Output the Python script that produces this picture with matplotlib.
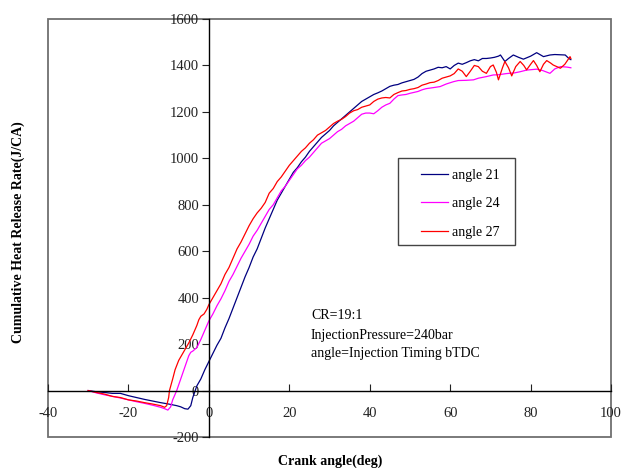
import matplotlib
matplotlib.use('Agg')
import matplotlib.pyplot as plt
from matplotlib.patches import Rectangle

plt.rcParams['font.family'] = ['Liberation Serif', 'DejaVu Serif']
plt.rcParams['axes.unicode_minus'] = False

# angle 21 (blue)
x21 = [-30, -28, -26, -24, -22, -21, -20, -18, -16, -14, -12, -10, -8, -7, -6, -5.2, -4.5, -4, -3.5, -3,
       -2, -1, 0, 1, 2, 3, 4, 5, 6, 7, 8, 9, 10, 11, 12, 13, 14, 15, 16, 17, 18, 19, 20, 21, 22, 23,
       24, 25, 26, 27, 28, 29, 30, 31, 32, 33, 34, 35, 36, 37, 38, 39, 40, 41, 42, 43, 44, 45, 46, 47,
       48, 49, 50, 51, 52, 53, 54, 55, 56, 57, 58, 59, 60, 61, 62, 63, 64, 65, 66, 67, 68, 69, 70, 71,
       72, 72.5, 73.6, 74.5, 75.7, 77, 78.2, 80, 81.5, 82.5, 83.2, 84.8, 86, 88.6, 89.5, 90]
y21 = [0, -5, -8, -12, -12, -17, -22, -30, -38, -45, -52, -58, -65, -70, -78, -80, -65, -30, -5, 20,
       50, 90, 125, 160, 195, 225, 270, 310, 355, 400, 445, 490, 530, 575, 610, 655, 700, 740, 780, 820,
       850, 880, 910, 940, 960, 985, 1005, 1030, 1050, 1070, 1090, 1105, 1120, 1140, 1155, 1170, 1185,
       1200, 1215, 1230, 1245, 1255, 1265, 1275, 1282, 1290, 1300, 1310, 1315, 1318, 1325, 1330, 1335,
       1340, 1350, 1365, 1375, 1380, 1385, 1392, 1390, 1395, 1385, 1400, 1410, 1405, 1412, 1420, 1425,
       1420, 1430, 1430, 1432, 1435, 1440, 1445, 1417, 1430, 1445, 1435, 1427, 1440, 1455, 1445, 1438,
       1445, 1447, 1445, 1430, 1425]

# angle 24 (magenta)
x24 = [-30, -28, -26, -24, -22, -20, -18, -16, -14, -12, -11, -10.2, -9.5, -9, -8, -7, -6, -5, -4.5, -4,
       -3, -2, -1, 0, 1, 2, 3, 4, 5, 6, 7, 8, 9, 10, 11, 12, 13, 14, 15, 16, 17, 18, 19, 20, 21, 22,
       23, 24, 25, 26, 27, 28, 29, 30, 31, 32, 33, 34, 35, 36, 37, 38, 39, 40, 41, 42, 43, 44, 45, 46,
       47, 48, 49, 50, 52, 53, 54, 56, 57.5, 59, 60.8, 62, 64, 65.8, 67, 69, 70.7, 72, 74, 76, 77.4, 79,
       81.5, 83, 84.8, 86, 87.4, 89, 90]
y24 = [0, -10, -18, -25, -32, -40, -48, -55, -63, -72, -78, -84, -70, -40, 0, 50, 100, 150, 165, 170,
       185, 220, 260, 300, 330, 365, 395, 430, 470, 500, 535, 570, 600, 630, 665, 690, 720, 750, 780,
       800, 830, 860, 880, 905, 930, 955, 970, 990, 1005, 1025, 1045, 1065, 1075, 1085, 1100, 1115,
       1125, 1140, 1150, 1160, 1175, 1190, 1195, 1195, 1192, 1205, 1220, 1230, 1237, 1255, 1270, 1273,
       1275, 1280, 1288, 1295, 1300, 1305, 1309, 1320, 1330, 1335, 1336, 1338, 1345, 1352, 1359, 1360,
       1365, 1368, 1373, 1380, 1384, 1378, 1366, 1385, 1395, 1393, 1390]

# angle 27 (red)
x27 = [-30, -28, -26, -24, -22, -20, -18, -16, -14, -12, -11, -10.5, -10, -9.8, -9, -8.4, -7.5, -6.5,
       -5.5, -5, -4, -3, -2.5, -2, -1.2, -0.5, 0, 1, 2, 3, 4, 5, 6, 7, 8, 9, 10, 11, 12, 13, 14, 15,
       16, 17, 18, 19, 20, 21, 22, 23, 24, 25, 26, 27, 28, 29, 30, 31, 32, 33, 34, 35, 36, 37, 38, 39,
       40, 41, 42, 43, 44, 45, 46, 47, 48, 49, 50, 51, 52, 53, 54, 55, 56, 57, 58, 59, 60, 61, 62, 63,
       64, 65, 66, 67, 68, 69, 70, 70.7, 71.5, 72, 73, 73.6, 74.5, 75.3, 76.3, 77.4, 78.3, 79, 80, 80.7,
       81.5, 82.3, 83.2, 84, 85, 85.6, 86.5, 87.4, 88.5, 89.8, 90]
y27 = [0, -8, -15, -25, -30, -40, -45, -52, -58, -65, -72, -65, -30, 0, 50, 90, 130, 160, 190, 205,
       240, 280, 305, 320, 330, 350, 370, 400, 430, 460, 500, 530, 570, 610, 640, 675, 710, 740, 765,
       785, 810, 850, 870, 900, 920, 945, 970, 990, 1010, 1030, 1045, 1065, 1080, 1100, 1110, 1120,
       1135, 1150, 1160, 1168, 1180, 1195, 1205, 1210, 1220, 1225, 1230, 1245, 1255, 1260, 1262, 1260,
       1275, 1283, 1290, 1292, 1297, 1300, 1305, 1315, 1320, 1326, 1328, 1335, 1345, 1350, 1355, 1365,
       1385, 1375, 1352, 1375, 1400, 1395, 1375, 1366, 1395, 1402, 1370, 1338, 1390, 1417, 1390, 1355,
       1395, 1417, 1400, 1381, 1405, 1421, 1400, 1373, 1405, 1421, 1410, 1402, 1395, 1388, 1405, 1438,
       1430]

labels = ['angle 21', 'angle 24', 'angle 27']
colors = ['#000080', '#ff00ff', '#ff0000']

fig = plt.figure(figsize=(6.21, 4.68), dpi=100)
ax = fig.add_axes([0.0773, 0.0662, 0.9067, 0.8932])

ax.plot(x21, y21, color=colors[0], lw=0.9, label=labels[0])
ax.plot(x24, y24, color=colors[1], lw=0.9, label=labels[1])
ax.plot(x27, y27, color=colors[2], lw=0.9, label=labels[2])

ax.set_xlim(-40, 100)
ax.set_ylim(-200, 1600)
ax.set_xticks([-40, -20, 0, 20, 40, 60, 80, 100])
ax.set_yticks([-200, 0, 200, 400, 600, 800, 1000, 1200, 1400, 1600])

ax.spines['left'].set_position(('data', 0))
ax.spines['bottom'].set_position(('data', 0))
ax.spines['top'].set_visible(False)
ax.spines['right'].set_visible(False)
ax.spines['left'].set_linewidth(1.0)
ax.spines['bottom'].set_linewidth(1.0)
ax.add_patch(Rectangle((0, 0), 1, 1, transform=ax.transAxes, fill=False,
                       edgecolor='#707070', lw=1.3, clip_on=False))

ax.tick_params(axis='y', direction='out', length=5, pad=2, labelsize=10.5, colors='#222222')
ax.tick_params(axis='x', direction='in', length=5, pad=12, labelsize=10.5, colors='#222222')

ax.set_xlabel('Crank angle(deg)', fontsize=10, fontweight='bold', va='center')
ax.set_ylabel('Cumulative Heat Release Rate(J/CA)', fontsize=10, fontweight='bold', va='center')
ax.xaxis.set_label_coords(0.502, -0.058)
ax.yaxis.set_label_coords(-0.053, 0.49)

# legend entries without frame, box drawn separately
leg = ax.legend(loc='upper left', bbox_to_anchor=(0.6625, 0.642), fontsize=10,
                frameon=False, borderpad=0, borderaxespad=0,
                handlelength=1.94, labelspacing=1.12, handletextpad=0.3)
ax.add_patch(Rectangle((0.6217, 0.4593), 0.2078, 0.2082, transform=ax.transAxes,
                       fill=False, edgecolor='#444444', lw=1.0))

ax.text(0.467, 0.291, 'CR=19:1', transform=ax.transAxes, fontsize=10, va='center')
ax.text(0.467, 0.243, 'InjectionPressure=240bar', transform=ax.transAxes, fontsize=10, va='center')
ax.text(0.467, 0.200, 'angle=Injection Timing bTDC', transform=ax.transAxes, fontsize=10, va='center')

fig.savefig('out.png', dpi=100)
